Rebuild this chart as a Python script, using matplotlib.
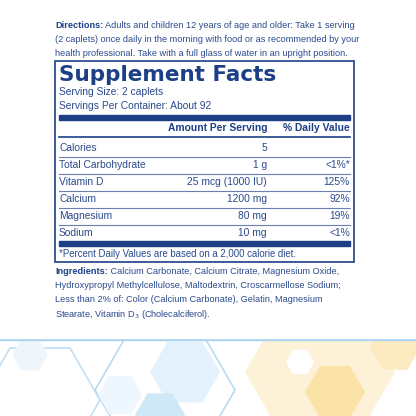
import matplotlib
matplotlib.use('Agg')
import numpy as np
import matplotlib.pyplot as plt
from matplotlib.patches import Rectangle, RegularPolygon

NAVY = '#1c3f86'
TEXT = '#2a4a8c'
FONT = ['Liberation Sans', 'DejaVu Sans']

directions = ['Adults and children 12 years of age and older: Take 1 serving',
              '(2 caplets) once daily in the morning with food or as recommended by your',
              'health professional. Take with a full glass of water in an upright position.']
serving_lines = ['Serving Size: 2 caplets', 'Servings Per Container: About 92']
nutrients = ['Calories', 'Total Carbohydrate', 'Vitamin D', 'Calcium', 'Magnesium', 'Sodium']
amounts = ['5', '1 g', '25 mcg (1000 IU)', '1200 mg', '80 mg', '10 mg']
daily = ['', '<1%*', '125%', '92%', '19%', '<1%']
footnote = '*Percent Daily Values are based on a 2,000 calorie diet.'
ingredients = ['Calcium Carbonate, Calcium Citrate, Magnesium Oxide,',
               'Hydroxypropyl Methylcellulose, Maltodextrin, Croscarmellose Sodium;',
               'Less than 2% of: Color (Calcium Carbonate), Gelatin, Magnesium',
               r'Stearate, Vitamin D$_3$ (Cholecalciferol).']

fig = plt.figure(figsize=(4.16, 4.16), dpi=100)
ax = fig.add_axes([0, 0, 1, 1])
ax.set_xlim(0, 416)
ax.set_ylim(416, 0)
ax.axis('off')

# background hexagons
hexes = [(40, 400, 60, 'none', '#bfe0f5'), (165, 390, 70, 'none', '#b5dbf3'),
         (185, 372, 35, '#e3f2fc', 'none'), (160, 415, 25, '#cfe8f8', 'none'),
         (120, 395, 22, '#eef7fd', 'none'), (30, 355, 18, '#eef6fc', 'none'),
         (320, 372, 75, '#fdf2d8', 'none'), (335, 392, 30, '#fbe3a8', 'none'),
         (300, 362, 14, '#ffffff', 'none'), (395, 348, 25, '#fcebc0', 'none')]
for cx, cy, r, fc, ec in hexes:
    ax.add_patch(RegularPolygon((cx, cy), 6, radius=r, orientation=np.pi / 6,
                                facecolor=fc, edgecolor=ec, lw=1.2, zorder=0))
ax.add_patch(Rectangle((0, 338), 416, 2, color='#a9d3f2', zorder=1))
ax.add_patch(Rectangle((0, 0), 416, 338, color='white', zorder=1))

kw = dict(color=TEXT, fontsize=6.6, family=FONT, va='center', zorder=3)


def labelled(x, y, label, rest):
    t = ax.text(x, y, label, fontweight='bold', **{**kw, 'color': NAVY})
    ax.annotate(' ' + rest, xy=(1, 0.5), xycoords=t, ha='left', **kw)


labelled(55, 25, 'Directions:', directions[0])
ax.text(55, 39, directions[1], **kw)
ax.text(55, 53, directions[2], **kw)

# label box
ax.add_patch(Rectangle((55, 61), 299, 201, fill=False, edgecolor=NAVY, lw=1.2, zorder=3))
ax.text(59, 75, 'Supplement Facts', color=NAVY, fontsize=15.5, fontweight='heavy',
        family=['DejaVu Sans'], va='center', zorder=3)
for i, s in enumerate(serving_lines):
    ax.text(59, 92 + 14 * i, s, **{**kw, 'fontsize': 7.4})
ax.add_patch(Rectangle((59, 115), 291, 5, color=NAVY, zorder=3))
ax.text(267, 128, 'Amount Per Serving', ha='right', fontweight='bold',
        **{**kw, 'color': NAVY, 'fontsize': 7.4})
ax.text(350, 128, '% Daily Value', ha='right', fontweight='bold',
        **{**kw, 'color': NAVY, 'fontsize': 7.4})
ax.plot([59, 350], [137, 137], color=NAVY, lw=1.2, zorder=3)

row_h = 17
for i, (n, a, d) in enumerate(zip(nutrients, amounts, daily)):
    y = 148 + row_h * i
    ax.text(59, y, n, **{**kw, 'fontsize': 7.4})
    ax.text(267, y, a, ha='right', **{**kw, 'fontsize': 7.4})
    ax.text(350, y, d, ha='right', **{**kw, 'fontsize': 7.4})
    if i < len(nutrients) - 1:
        ax.plot([59, 350], [y + 8.5, y + 8.5], color='#6b7fb0', lw=0.8, zorder=3)
ax.add_patch(Rectangle((59, 241), 291, 5, color=NAVY, zorder=3))
ax.text(59, 254, footnote, **{**kw, 'fontsize': 6.9})

labelled(55, 271, 'Ingredients:', ingredients[0])
for i, s in enumerate(ingredients[1:]):
    ax.text(55, 285.5 + 14.3 * i, s, **kw)

fig.savefig('out.png', dpi=100)
